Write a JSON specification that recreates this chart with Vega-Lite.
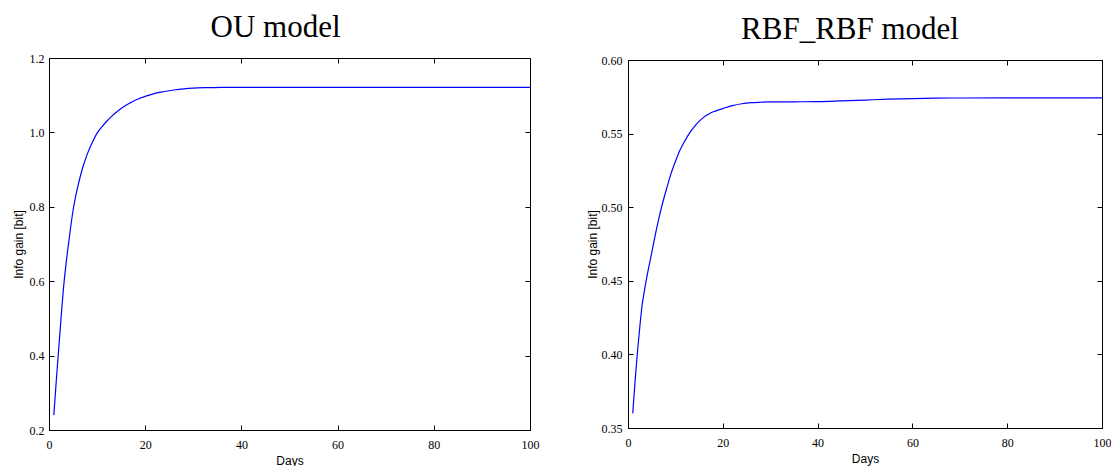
{
  "$schema": "https://vega.github.io/schema/vega-lite/v6.json",
  "padding": {"left": 12, "top": 12, "right": 0, "bottom": 0},
  "background": "white",
  "spacing": 47,
  "center": true,
  "config": {
    "view": {"stroke": null},
    "axis": {
      "grid": false,
      "domainColor": "#000000",
      "domainWidth": 1,
      "tickColor": "#000000",
      "tickWidth": 1,
      "tickSize": -5,
      "labelFont": "Liberation Serif",
      "labelFontSize": 12,
      "labelColor": "#000000",
      "labelFlush": false,
      "titleFont": "Liberation Sans",
      "titleFontSize": 12,
      "titleFontWeight": "normal",
      "titleColor": "#000000"
    }
  },
  "datasets": {
    "ou": [
      {"day": 1, "gain": 0.24}, {"day": 1.5, "gain": 0.33}, {"day": 2, "gain": 0.415}, {"day": 2.5, "gain": 0.5},
      {"day": 3, "gain": 0.58}, {"day": 3.5, "gain": 0.642}, {"day": 4, "gain": 0.695}, {"day": 4.5, "gain": 0.745},
      {"day": 5, "gain": 0.79}, {"day": 6, "gain": 0.855}, {"day": 7, "gain": 0.905}, {"day": 8, "gain": 0.943},
      {"day": 9, "gain": 0.973}, {"day": 10, "gain": 0.998}, {"day": 11, "gain": 1.015}, {"day": 12, "gain": 1.03},
      {"day": 13, "gain": 1.043}, {"day": 14, "gain": 1.054}, {"day": 15, "gain": 1.064}, {"day": 16, "gain": 1.073},
      {"day": 17, "gain": 1.08}, {"day": 18, "gain": 1.087}, {"day": 19, "gain": 1.092}, {"day": 20, "gain": 1.097},
      {"day": 21, "gain": 1.101}, {"day": 22, "gain": 1.105}, {"day": 24, "gain": 1.11}, {"day": 26, "gain": 1.114},
      {"day": 28, "gain": 1.117}, {"day": 30, "gain": 1.119}, {"day": 33, "gain": 1.1203}, {"day": 36, "gain": 1.121},
      {"day": 40, "gain": 1.121}, {"day": 50, "gain": 1.121}, {"day": 60, "gain": 1.121}, {"day": 70, "gain": 1.121},
      {"day": 80, "gain": 1.121}, {"day": 90, "gain": 1.121}, {"day": 100, "gain": 1.121}
    ],
    "rbf": [
      {"day": 1, "gain": 0.36}, {"day": 1.5, "gain": 0.382}, {"day": 2, "gain": 0.402}, {"day": 2.5, "gain": 0.419},
      {"day": 3, "gain": 0.434}, {"day": 3.5, "gain": 0.444}, {"day": 4, "gain": 0.453}, {"day": 5, "gain": 0.469},
      {"day": 6, "gain": 0.485}, {"day": 7, "gain": 0.499}, {"day": 8, "gain": 0.511}, {"day": 9, "gain": 0.522},
      {"day": 10, "gain": 0.531}, {"day": 11, "gain": 0.539}, {"day": 12, "gain": 0.545}, {"day": 13, "gain": 0.5505},
      {"day": 14, "gain": 0.5548}, {"day": 15, "gain": 0.5583}, {"day": 16, "gain": 0.5612}, {"day": 17, "gain": 0.5632},
      {"day": 18, "gain": 0.5648}, {"day": 19, "gain": 0.566}, {"day": 20, "gain": 0.567}, {"day": 22, "gain": 0.569},
      {"day": 24, "gain": 0.5703}, {"day": 26, "gain": 0.571}, {"day": 28, "gain": 0.5713}, {"day": 30, "gain": 0.5715},
      {"day": 35, "gain": 0.5716}, {"day": 40, "gain": 0.5717}, {"day": 45, "gain": 0.5722}, {"day": 50, "gain": 0.5728},
      {"day": 55, "gain": 0.5734}, {"day": 60, "gain": 0.5738}, {"day": 65, "gain": 0.5741}, {"day": 70, "gain": 0.5742},
      {"day": 80, "gain": 0.5743}, {"day": 90, "gain": 0.5743}, {"day": 100, "gain": 0.5743}
    ]
  },
  "hconcat": [
    {
      "title": {"text": "OU model", "font": "Liberation Serif", "fontSize": 31, "fontWeight": "normal", "color": "#000000", "baseline": "alphabetic", "offset": -16, "dx": -14},
      "width": 481,
      "height": 372,
      "data": {"name": "ou"},
      "layer": [
        {
          "mark": {"type": "line", "color": "#0000ff", "strokeWidth": 1.2, "interpolate": "monotone"},
          "encoding": {
            "x": {"field": "day", "type": "quantitative", "scale": {"domain": [0, 100], "nice": false},
                  "axis": {"title": "Days", "values": [0, 20, 40, 60, 80, 100], "format": "d", "labelPadding": 14, "titlePadding": 5}},
            "y": {"field": "gain", "type": "quantitative", "scale": {"domain": [0.2, 1.2], "nice": false, "zero": false},
                  "axis": {"title": "Info gain [bit]", "values": [0.2, 0.4, 0.6, 0.8, 1.0, 1.2], "format": ".1f", "labelPadding": 10, "titlePadding": 4}}
          }
        },
        {
          "mark": {"type": "line", "opacity": 0},
          "encoding": {
            "x": {"field": "day", "type": "quantitative", "scale": {"domain": [0, 100], "nice": false},
                  "axis": {"orient": "top", "title": null, "labels": false, "values": [0, 20, 40, 60, 80, 100]}},
            "y": {"field": "gain", "type": "quantitative", "scale": {"domain": [0.2, 1.2], "nice": false, "zero": false},
                  "axis": {"orient": "right", "title": null, "labels": false, "values": [0.2, 0.4, 0.6, 0.8, 1.0, 1.2]}}
          }
        }
      ],
      "resolve": {"axis": {"x": "independent", "y": "independent"}}
    },
    {
      "title": {"text": "RBF_RBF model", "font": "Liberation Serif", "fontSize": 31, "fontWeight": "normal", "color": "#000000", "baseline": "alphabetic", "offset": -16, "dx": -15},
      "width": 474,
      "height": 368,
      "data": {"name": "rbf"},
      "layer": [
        {
          "mark": {"type": "line", "color": "#0000ff", "strokeWidth": 1.2, "interpolate": "monotone"},
          "encoding": {
            "x": {"field": "day", "type": "quantitative", "scale": {"domain": [0, 100], "nice": false},
                  "axis": {"title": "Days", "values": [0, 20, 40, 60, 80, 100], "format": "d", "labelPadding": 14, "titlePadding": 5}},
            "y": {"field": "gain", "type": "quantitative", "scale": {"domain": [0.35, 0.6], "nice": false, "zero": false},
                  "axis": {"title": "Info gain [bit]", "values": [0.35, 0.4, 0.45, 0.5, 0.55, 0.6], "format": ".2f", "labelPadding": 11, "titlePadding": 2}}
          }
        },
        {
          "mark": {"type": "line", "opacity": 0},
          "encoding": {
            "x": {"field": "day", "type": "quantitative", "scale": {"domain": [0, 100], "nice": false},
                  "axis": {"orient": "top", "title": null, "labels": false, "values": [0, 20, 40, 60, 80, 100]}},
            "y": {"field": "gain", "type": "quantitative", "scale": {"domain": [0.35, 0.6], "nice": false, "zero": false},
                  "axis": {"orient": "right", "title": null, "labels": false, "values": [0.35, 0.4, 0.45, 0.5, 0.55, 0.6]}}
          }
        }
      ],
      "resolve": {"axis": {"x": "independent", "y": "independent"}}
    }
  ]
}
